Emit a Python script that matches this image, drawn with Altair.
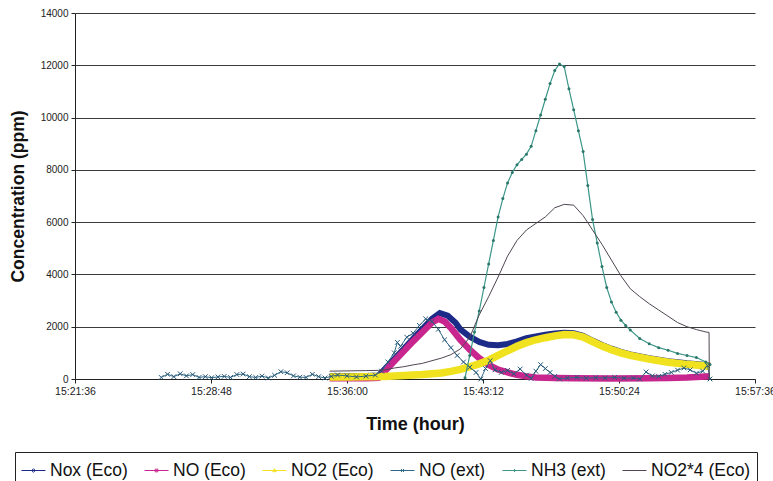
import altair as alt
import pandas as pd

# ---- series names and colours -------------------------------------------
SERIES = ["Nox (Eco)", "NO (Eco)", "NO2 (Eco)", "NO (ext)", "NH3 (ext)", "NO2*4 (Eco)"]
COLORS = ["#1c2a88", "#c8268e", "#f0e21e", "#2f6884", "#3b9688", "#4f4652"]
# legend glyphs: a short line with the series marker on it
LEGEND_GLYPHS = [
    "M-1,0H1M0,-0.15L0.15,0L0,0.15L-0.15,0Z",
    "M-1,0H1M-0.11,-0.11H0.11V0.11H-0.11Z",
    "M-1,0H1M0,-0.15L0.14,0.1H-0.14Z",
    "M-1,0H1M-0.13,-0.13L0.13,0.13M-0.13,0.13L0.13,-0.13",
    "M-1,0H1M0,-0.12V0.12",
    "M-1,0H1",
]

# ---- measured concentrations (ppm) --------------------------------------
nox_eco_time = ["15:35:05", "15:36:00", "15:37:00", "15:37:40", "15:38:00", "15:38:30",
                "15:39:00", "15:39:30", "15:40:00", "15:40:30", "15:40:55", "15:41:20",
                "15:41:45", "15:42:00", "15:42:30", "15:43:00", "15:43:30", "15:44:00",
                "15:44:30", "15:45:00", "15:45:30", "15:46:00", "15:46:30", "15:47:00",
                "15:47:30", "15:48:00", "15:48:30", "15:49:00", "15:49:30", "15:50:00",
                "15:50:30", "15:51:00", "15:52:00", "15:53:00", "15:54:00", "15:55:00",
                "15:55:13"]
nox_eco_ppm = [110, 110, 115, 130, 380, 760,
               1150, 1540, 1920, 2300, 2520, 2420,
               2150, 1900, 1620, 1420, 1310, 1290,
               1340, 1440, 1560, 1630, 1690, 1740,
               1770, 1750, 1650, 1470, 1300, 1160,
               1040, 940, 800, 680, 600, 540,
               520]

no_eco_time = ["15:35:05", "15:36:00", "15:37:00", "15:37:40", "15:38:00", "15:38:30",
               "15:39:00", "15:39:30", "15:40:00", "15:40:30", "15:40:50", "15:41:10",
               "15:41:30", "15:42:00", "15:42:30", "15:43:00", "15:43:30", "15:44:00",
               "15:44:30", "15:45:00", "15:45:30", "15:46:00", "15:47:00", "15:48:00",
               "15:50:00", "15:52:00", "15:53:00", "15:54:00", "15:55:00", "15:55:13"]
no_eco_ppm = [30, 25, 30, 50, 300, 680,
              1060, 1440, 1800, 2160, 2300, 2200,
              1950, 1500, 1120, 800, 540, 360,
              250, 160, 100, 60, 35, 25,
              20, 25, 40, 60, 100, 110]

no2_eco_time = ["15:35:05", "15:36:00", "15:37:00", "15:38:00", "15:39:00", "15:40:00",
                "15:41:00", "15:41:30", "15:42:00", "15:42:30", "15:43:00", "15:43:30",
                "15:44:00", "15:44:30", "15:45:00", "15:45:30", "15:46:00", "15:46:30",
                "15:47:00", "15:47:30", "15:48:00", "15:48:30", "15:49:00", "15:49:30",
                "15:50:00", "15:50:30", "15:51:00", "15:52:00", "15:53:00", "15:54:00",
                "15:55:00", "15:55:13"]
no2_eco_ppm = [80, 80, 85, 100, 130, 170,
               230, 290, 370, 470, 580, 720,
               900, 1080, 1250, 1390, 1500, 1580,
               1650, 1700, 1690, 1600, 1430, 1260,
               1120, 1000, 900, 760, 640, 560,
               500, 480]

no_ext_time = ["15:26:10", "15:26:30", "15:26:50", "15:27:10", "15:27:30", "15:27:50",
               "15:28:10", "15:28:30", "15:28:50", "15:29:10", "15:29:30", "15:29:50",
               "15:30:10", "15:30:30", "15:30:50", "15:31:10", "15:31:30", "15:31:50",
               "15:32:10", "15:32:30", "15:32:50", "15:33:10", "15:33:30", "15:33:50",
               "15:34:10", "15:34:30", "15:34:50", "15:35:10", "15:35:30", "15:36:00",
               "15:36:30", "15:37:00", "15:37:30", "15:37:50", "15:38:10", "15:38:30",
               "15:38:40", "15:38:50", "15:39:10", "15:39:30", "15:39:50", "15:40:10",
               "15:40:30", "15:40:50", "15:41:10", "15:41:30", "15:41:50", "15:42:10",
               "15:42:30", "15:42:50", "15:43:05", "15:43:20", "15:43:35", "15:43:50",
               "15:44:10", "15:44:30", "15:44:50", "15:45:10", "15:45:30", "15:45:45",
               "15:46:00", "15:46:15", "15:46:30", "15:46:45", "15:47:00", "15:47:15",
               "15:47:40", "15:48:10", "15:48:40", "15:49:10", "15:49:40", "15:50:10",
               "15:50:40", "15:51:10", "15:51:30", "15:51:50", "15:52:10", "15:52:30",
               "15:52:50", "15:53:10", "15:53:30", "15:53:50", "15:54:10", "15:54:30",
               "15:54:50", "15:55:05", "15:55:13"]
no_ext_ppm = [60, 180, 90, 200, 120, 170,
              60, 90, 50, 80, 100, 60,
              170, 190, 90, 60, 110, 40,
              140, 280, 240, 120, 70, 60,
              180, 90, 40, 100, 150, 120,
              80, 110, 150, 300, 650, 1000,
              1400, 1250, 1600, 1750, 2050, 2300,
              2200, 1900, 1500, 1200, 900, 650,
              450, 250, 0, 400, 700, 350,
              250, 330, 200, 380, 150, 20,
              300, 550, 400, 250, 100, 0,
              40, 60, 30, 50, 40, 60,
              30, 40, 0, 270, 120, 100,
              180, 250, 340, 420, 350, 220,
              300, 520, 0]

nh3_ext_time = ["15:42:15", "15:42:30", "15:42:45", "15:43:00", "15:43:15", "15:43:30",
                "15:43:45", "15:44:00", "15:44:15", "15:44:30", "15:44:45", "15:45:00",
                "15:45:15", "15:45:30", "15:45:45", "15:46:00", "15:46:15", "15:46:30",
                "15:46:45", "15:47:00", "15:47:15", "15:47:30", "15:47:45", "15:48:00",
                "15:48:15", "15:48:30", "15:48:45", "15:49:00", "15:49:15", "15:49:30",
                "15:49:45", "15:50:00", "15:50:15", "15:50:30", "15:50:45", "15:51:00",
                "15:51:30", "15:52:00", "15:52:30", "15:53:00", "15:53:30", "15:54:00",
                "15:54:30", "15:55:00", "15:55:13"]
nh3_ext_ppm = [50, 900, 1800, 2600, 3500, 4400,
               5300, 6200, 6900, 7500, 7900, 8200,
               8400, 8600, 8900, 9500, 10100, 10700,
               11300, 11800, 12050, 11950, 11100, 10300,
               9500, 8700, 7400, 6100, 5200, 4300,
               3500, 2950, 2550, 2250, 2050, 1870,
               1550, 1350, 1200, 1100, 980, 900,
               820, 650, 550]

no2x4_eco_time = ["15:35:05", "15:36:00", "15:37:00", "15:37:40", "15:38:00", "15:38:30",
                  "15:39:00", "15:39:30", "15:40:00", "15:40:30", "15:41:00", "15:41:30",
                  "15:42:00", "15:42:30", "15:43:00", "15:43:30", "15:44:00", "15:44:30",
                  "15:45:00", "15:45:30", "15:46:00", "15:46:30", "15:47:00", "15:47:30",
                  "15:48:00", "15:48:30", "15:49:00", "15:49:30", "15:50:00", "15:50:30",
                  "15:51:00", "15:51:30", "15:52:00", "15:52:30", "15:53:00", "15:53:30",
                  "15:54:00", "15:54:30", "15:55:00", "15:55:10", "15:55:11"]
no2x4_eco_ppm = [300, 310, 320, 330, 350, 420,
                 470, 540, 600, 700, 800, 930,
                 1150, 1600, 2450, 3150, 3900, 4700,
                 5300, 5700, 5950, 6200, 6550, 6680,
                 6650, 6250, 5700, 5150, 4550, 3950,
                 3450, 3150, 2880, 2640, 2400, 2160,
                 2000, 1890, 1800, 1780, 0]

# ---- axis ticks -------------------------------------------------------------
x_tick_labels = ["15:21:36", "15:28:48", "15:36:00", "15:43:12", "15:50:24", "15:57:36"]
y_ticks = [0, 2000, 4000, 6000, 8000, 10000, 12000, 14000]


def clock_seconds(t):
    h, m, s = (int(p) for p in t.split(":"))
    return h * 3600 + m * 60 + s


def frame(name, times, values):
    return pd.DataFrame({"series": name,
                         "t": [clock_seconds(t) for t in times],
                         "ppm": values})


data = pd.concat([
    frame(SERIES[0], nox_eco_time, nox_eco_ppm),
    frame(SERIES[1], no_eco_time, no_eco_ppm),
    frame(SERIES[2], no2_eco_time, no2_eco_ppm),
    frame(SERIES[3], no_ext_time, no_ext_ppm),
    frame(SERIES[4], nh3_ext_time, nh3_ext_ppm),
    frame(SERIES[5], no2x4_eco_time, no2x4_eco_ppm),
], ignore_index=True)

x_ticks = [clock_seconds(t) for t in x_tick_labels]
FONT = "Liberation Sans"

x_enc = alt.X("t:Q",
              scale=alt.Scale(domain=[x_ticks[0], x_ticks[-1]], nice=False, zero=False),
              axis=alt.Axis(values=x_ticks, title="Time (hour)",
                            labelExpr="utcFormat(datum.value * 1000, '%H:%M:%S')",
                            labelFlush=False, labelOverlap=False,
                            grid=False, domainColor="#222", tickColor="#222",
                            tickSize=4, labelFontSize=10.5, labelColor="#222",
                            labelPadding=3, labelFont=FONT,
                            titleFont=FONT, titleFontSize=18, titleFontWeight="bold",
                            titleColor="#111", titleY=45, titleBaseline="middle"))
y_enc = alt.Y("ppm:Q",
              scale=alt.Scale(domain=[0, 14000], nice=False),
              axis=alt.Axis(values=y_ticks, format="d", title="Concentration (ppm)",
                            grid=True, gridColor="#3a3a3a", gridWidth=1,
                            domainColor="#222", tickColor="#222", tickSize=4,
                            labelFontSize=10, labelColor="#222", labelFont=FONT,
                            labelPadding=3,
                            titleFont=FONT, titleFontSize=17.5, titleFontWeight="bold",
                            titleColor="#111", titleX=-48))

legend = alt.Legend(
    title=None, orient="none", legendX=-60, legendY=439, direction="horizontal",
    labelFont=FONT, labelFontSize=17.5, labelColor="#111", labelOffset=4,
    symbolSize=576, symbolStrokeWidth=1, columnPadding=14, padding=6,
    strokeColor="#222", fillColor="white", symbolOpacity=1,
)
color_enc = alt.Color("series:N",
                      scale=alt.Scale(domain=SERIES, range=COLORS),
                      sort=SERIES, legend=legend)
shape_enc = alt.Shape("series:N",
                      scale=alt.Scale(domain=SERIES, range=LEGEND_GLYPHS),
                      sort=SERIES, legend=legend)

base = alt.Chart(data).encode(x=x_enc, y=y_enc, color=color_enc, order="t:Q")


def only(name):
    return alt.datum.series == name


# an empty point layer carries the shape scale used by the legend glyphs
legend_layer = alt.Chart(data).transform_filter("datum.ppm < 0").mark_point(
    filled=False, strokeWidth=1, opacity=1).encode(
    x=x_enc, y=y_enc, color=color_enc, shape=shape_enc)

nox_line = base.transform_filter(only(SERIES[0])).mark_line(strokeWidth=6)
no_line = base.transform_filter(only(SERIES[1])).mark_line(strokeWidth=6.5)
no2_line = base.transform_filter(only(SERIES[2])).mark_line(strokeWidth=7.5)
noext_line = base.transform_filter(only(SERIES[3])).mark_line(strokeWidth=1)
noext_pts = alt.Chart(data).transform_filter(only(SERIES[3])).mark_point(
    shape="M-1,-1L1,1M-1,1L1,-1", filled=False, size=22, strokeWidth=1,
    color="#27597a", opacity=1).encode(x=x_enc, y=y_enc)
nh3_line = base.transform_filter(only(SERIES[4])).mark_line(strokeWidth=1.2)
nh3_pts = alt.Chart(data).transform_filter(only(SERIES[4])).mark_point(
    shape="circle", filled=True, size=9, color="#2c786c", opacity=1).encode(x=x_enc, y=y_enc)
no2x4_line = base.transform_filter(only(SERIES[5])).mark_line(strokeWidth=1)

chart = alt.layer(
    legend_layer, nox_line, no_line, no2_line, noext_line, noext_pts,
    nh3_line, nh3_pts, no2x4_line
).properties(
    width=680, height=366,
    autosize=alt.AutoSizeParams(type="none"),
    padding={"left": 75, "top": 13, "right": 18, "bottom": 102},
    background="white",
).configure_view(stroke=None)

chart.save("out.html", embed_options={"renderer": "svg", "actions": False})
